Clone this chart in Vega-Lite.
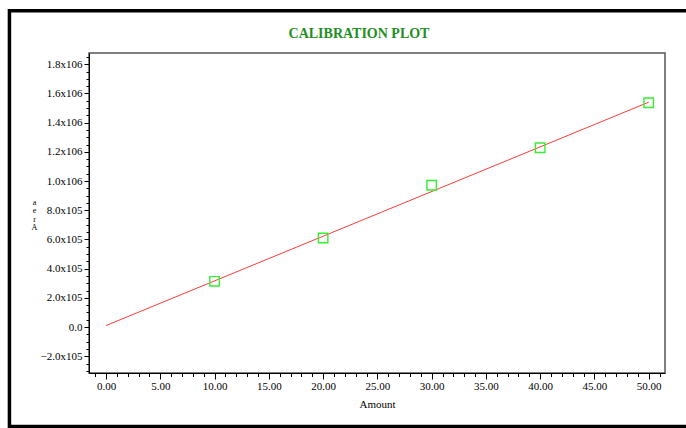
{
  "$schema": "https://vega.github.io/schema/vega-lite/v6.json",
  "width": 576,
  "height": 320,
  "autosize": {"type": "none"},
  "padding": {"left": 89, "top": 53, "right": 21, "bottom": 55},
  "background": "white",
  "title": {
    "text": "CALIBRATION PLOT",
    "font": "Liberation Serif",
    "fontSize": 14,
    "fontWeight": "bold",
    "color": "#1f8f1f",
    "anchor": "middle",
    "frame": "group",
    "baseline": "alphabetic",
    "dx": -18,
    "offset": -42.5
  },
  "config": {
    "view": {"stroke": "#555555", "strokeWidth": 1.5},
    "axis": {
      "grid": false,
      "labelFont": "Liberation Serif",
      "titleFont": "Liberation Serif",
      "labelColor": "#000000",
      "titleColor": "#000000",
      "domainColor": "#000000",
      "tickColor": "#000000",
      "domainWidth": 1,
      "tickWidth": 1
    }
  },
  "layer": [
    {
      "data": {"values": [{}]},
      "mark": {"type": "rect", "fillOpacity": 0, "stroke": "#000000", "strokeWidth": 3.5, "clip": false},
      "encoding": {
        "x": {"datum": -8.9, "type": "quantitative", "scale": {"domain": [-1.57, 51.5], "nice": false, "zero": false}, "axis": null},
        "x2": {"datum": 53.9},
        "y": {"datum": 2166000, "type": "quantitative", "scale": {"domain": [-315000, 1877000], "nice": false, "zero": false}, "axis": null},
        "y2": {"datum": -681500}
      }
    },
    {
      "data": {"values": [{"amount": 0, "area": 10000}, {"amount": 50, "area": 1540000}]},
      "mark": {"type": "line", "color": "#ff3b3b", "strokeWidth": 1},
      "encoding": {
        "x": {
          "field": "amount", "type": "quantitative",
          "axis": {"orient": "bottom", "values": [-1,0,1,2,3,4,5,6,7,8,9,10,11,12,13,14,15,16,17,18,19,20,21,22,23,24,25,26,27,28,29,30,31,32,33,34,35,36,37,38,39,40,41,42,43,44,45,46,47,48,49,50,51], "labels": false, "domain": false, "tickSize": 3.5, "title": null}
        },
        "y": {
          "field": "area", "type": "quantitative",
          "axis": {"orient": "left", "values": [-300000,-250000,-200000,-150000,-100000,-50000,0,50000,100000,150000,200000,250000,300000,350000,400000,450000,500000,550000,600000,650000,700000,750000,800000,850000,900000,950000,1000000,1050000,1100000,1150000,1200000,1250000,1300000,1350000,1400000,1450000,1500000,1550000,1600000,1650000,1700000,1750000,1800000,1850000], "labels": false, "domain": false, "tickSize": 3, "title": null}
        }
      }
    },
    {
      "data": {"values": [
        {"amount": 10, "area": 313000},
        {"amount": 20, "area": 610000},
        {"amount": 30, "area": 971000},
        {"amount": 40, "area": 1228000},
        {"amount": 50, "area": 1536000}
      ]},
      "mark": {"type": "point", "shape": "square", "filled": false, "stroke": "#33ee33", "strokeWidth": 1.4, "size": 90, "opacity": 1},
      "encoding": {
        "x": {
          "field": "amount", "type": "quantitative",
          "axis": {"orient": "bottom", "values": [0,5,10,15,20,25,30,35,40,45,50], "format": ".2f", "tickSize": 6, "labelFontSize": 11, "labelPadding": 1, "title": "Amount", "titleFontSize": 11, "titleFontWeight": "normal", "titleY": 34, "titleBaseline": "alphabetic"}
        },
        "y": {
          "field": "area", "type": "quantitative",
          "axis": {"orient": "left", "values": [-200000,0,200000,400000,600000,800000,1000000,1200000,1400000,1600000,1800000],
            "labelExpr": "datum.value == 0 ? '0.0' : (abs(datum.value) >= 1000000 ? format(datum.value/1000000, '.1f') + 'x106' : format(datum.value/100000, '.1f') + 'x105')",
            "tickSize": 5, "labelPadding": 2, "labelFontSize": 11,
            "title": ["a", "e", "r", "A"], "titleAngle": 0, "titleX": -55, "titleY": 145, "titleAlign": "center", "titleBaseline": "top", "titleFontSize": 8, "titleLineHeight": 8.5, "titleFontWeight": "normal"}
        }
      }
    }
  ],
  "resolve": {"axis": {"x": "independent", "y": "independent"}}
}
